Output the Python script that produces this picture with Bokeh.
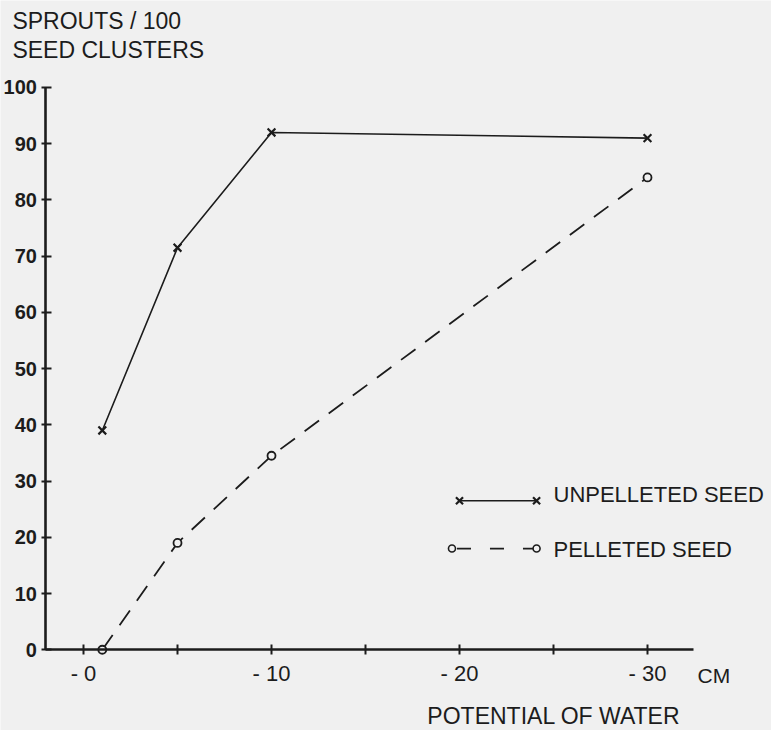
from bokeh.plotting import figure
from bokeh.models import Range1d, FixedTicker, Label
from bokeh.embed import file_html
from bokeh.resources import INLINE

# ---- data ----
potential_cm = [-1, -5, -10, -30]
unpelleted_seed = [39, 71.5, 92, 91]
pelleted_seed = [0, 19, 34.5, 84]

x_major_ticks = [0, -10, -20, -30]
x_minor_ticks = [-5, -15, -25]
x_tick_labels = ["- 0", "- 10", "- 20", "- 30"]
y_ticks = [0, 10, 20, 30, 40, 50, 60, 70, 80, 90, 100]
y_tick_labels = ["0", "10", "20", "30", "40", "50", "60", "70", "80", "90", "100"]

series_names = ["UNPELLETED SEED", "PELLETED SEED"]
y_title_lines = ["SPROUTS / 100", "SEED CLUSTERS"]
x_title = "POTENTIAL OF WATER"
x_unit = "CM"

# ---- style / layout ----
BG = "#f0f0f0"
INK = "#1c1c1c"
FONT = "Liberation Sans"

# the frame covers the whole canvas; axes sit at fixed data locations
p = figure(width=771, height=730, output_backend="svg", toolbar_location=None,
           x_range=Range1d(4.415, -36.596), y_range=Range1d(-14.36, 115.47),
           min_border=0, min_border_left=0, min_border_right=0,
           min_border_top=0, min_border_bottom=0)
p.background_fill_color = BG
p.border_fill_color = BG
p.outline_line_color = None
p.grid.visible = False

xa = p.xaxis[0]
xa.ticker = FixedTicker(ticks=x_major_ticks, minor_ticks=x_minor_ticks)
xa.major_label_overrides = dict(zip(x_major_ticks, x_tick_labels))
xa.fixed_location = 0
xa.bounds = (-32.45, 2)
xa.axis_line_width = 2.6
xa.axis_line_color = INK
xa.major_tick_in = 5
xa.major_tick_out = 5
xa.minor_tick_in = 5
xa.minor_tick_out = 5
xa.major_tick_line_width = 2
xa.minor_tick_line_width = 2
xa.major_tick_line_color = INK
xa.minor_tick_line_color = INK
xa.major_label_standoff = 6
xa.major_label_text_font = FONT
xa.major_label_text_font_size = "22px"
xa.major_label_text_color = INK

ya = p.yaxis[0]
ya.ticker = FixedTicker(ticks=y_ticks)
ya.major_label_overrides = dict(zip(y_ticks, y_tick_labels))
ya.fixed_location = 2
ya.bounds = (0, 100)
ya.axis_line_width = 2.6
ya.axis_line_color = INK
ya.major_tick_in = 6
ya.major_tick_out = 4
ya.major_tick_line_width = 2
ya.major_tick_line_color = INK
ya.minor_tick_line_color = None
ya.major_label_standoff = 5
ya.major_label_text_font = FONT
ya.major_label_text_font_style = "bold"
ya.major_label_text_font_size = "20px"
ya.major_label_text_color = INK

# ---- data series ----
p.line(potential_cm, unpelleted_seed, line_color=INK, line_width=1.6)
p.scatter(potential_cm, unpelleted_seed, marker="x", size=11,
          line_color=INK, line_width=2.2)
p.line(potential_cm, pelleted_seed, line_color=INK, line_width=1.8,
       line_dash="18 12")
p.scatter(potential_cm, pelleted_seed, marker="circle", size=8,
          fill_color=BG, line_color=INK, line_width=1.8)

# ---- hand-drawn style legend (layout positions in data units) ----
leg_x = [-20.0, -24.1]
leg_y_unp = 26.5
leg_y_pel = 18.0
p.line(leg_x, [leg_y_unp, leg_y_unp], line_color=INK, line_width=1.6)
p.scatter(leg_x, [leg_y_unp, leg_y_unp], marker="x", size=10,
          line_color=INK, line_width=2.2)
p.line([-19.6, -24.1], [leg_y_pel, leg_y_pel], line_color=INK, line_width=1.8,
       line_dash="14 19", line_dash_offset=-5)
p.scatter([-19.6, -24.1], [leg_y_pel, leg_y_pel], marker="circle", size=7,
          fill_color=BG, line_color=INK, line_width=1.6)

def add_label(x, y, text, size, align="left"):
    p.add_layout(Label(x=x, y=y, text=text, text_font=FONT,
                       text_font_size=size, text_color=INK,
                       text_align=align, text_baseline="alphabetic"))

add_label(-25.0, 27.65, series_names[0], "22px")
add_label(-25.0, 17.85, series_names[1], "22px")
add_label(3.78, 111.75, y_title_lines[0], "23px")
add_label(3.78, 106.75, y_title_lines[1], "23px")
add_label(-32.66, -4.5, x_unit, "21px")
add_label(-25.02, -11.7, x_title, "23px", align="center")

open("out.html", "w").write(file_html(p, INLINE))
